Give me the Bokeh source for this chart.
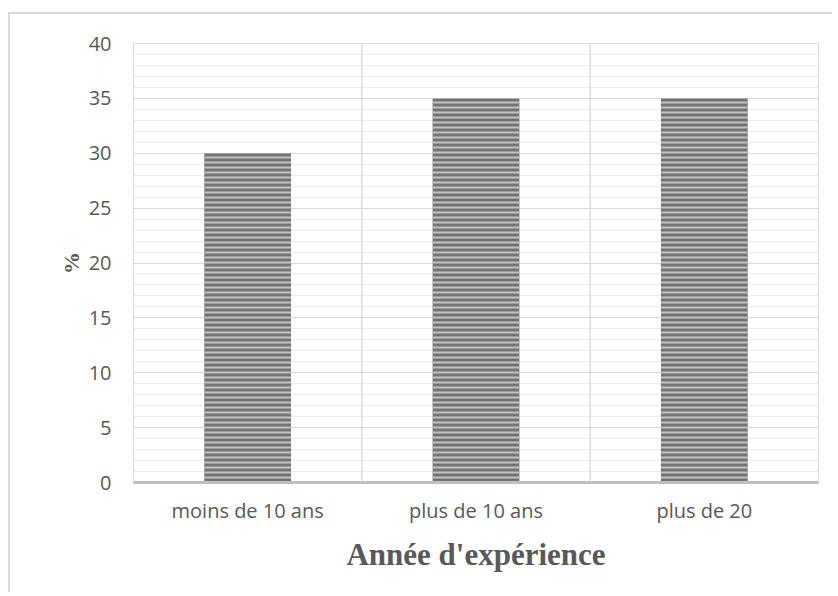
from bokeh.plotting import figure
from bokeh.models import FactorRange, Range1d, SingleIntervalTicker, Span, ColumnDataSource
from bokeh.embed import file_html
from bokeh.resources import INLINE

categories = ["moins de 10 ans", "plus de 10 ans", "plus de 20"]
values = [30, 35, 35]
y_label = "%"
x_label = "Année d'expérience"
y_min, y_max, y_step = 0, 40, 5

src = ColumnDataSource(dict(cat=categories, val=values))

p = figure(
    x_range=FactorRange(*categories),
    y_range=Range1d(y_min, y_max),
    width=824, height=580,
    output_backend="svg", toolbar_location=None,
    min_border_left=123, min_border_right=16,
    min_border_top=29, min_border_bottom=112,
)
p.styles = {"border-left": "2px solid #d9d9d9", "border-top": "2px solid #d9d9d9",
            "margin-top": "12px", "margin-left": "8px"}
p.background_fill_color = "white"
p.border_fill_color = "white"
p.outline_line_color = "#d9d9d9"
p.outline_line_width = 1

p.vbar(x="cat", top="val", width=0.38, source=src,
       fill_color="#747474", line_color=None,
       hatch_pattern="horizontal_line", hatch_color="#c2c2c2",
       hatch_weight=2, hatch_scale=5)

for b in range(1, len(categories)):
    p.add_layout(Span(location=b, dimension="height", line_color="#dedede",
                      line_width=1.5, level="underlay"))

p.xgrid.grid_line_color = None
p.yaxis.ticker = SingleIntervalTicker(interval=y_step, num_minor_ticks=5)
p.ygrid.grid_line_color = "#d9d9d9"
p.ygrid.minor_grid_line_color = "#ececec"

p.yaxis.axis_line_color = None
p.yaxis.major_tick_line_color = None
p.yaxis.minor_tick_line_color = None
p.yaxis.major_label_standoff = 16
p.yaxis.major_label_text_font = "Open Sans"
p.yaxis.major_label_text_font_size = "20px"
p.yaxis.major_label_text_color = "#595959"
p.yaxis.axis_label = y_label
p.yaxis.axis_label_text_font = "Liberation Serif"
p.yaxis.axis_label_text_font_style = "bold"
p.yaxis.axis_label_text_font_size = "22px"
p.yaxis.axis_label_text_color = "#595959"
p.yaxis.axis_label_standoff = 2

p.xaxis.axis_line_color = "#bfbfbf"
p.xaxis.axis_line_width = 3
p.xaxis.major_tick_line_color = None
p.xaxis.minor_tick_line_color = None
p.xaxis.major_label_standoff = 8
p.xaxis.major_label_text_font = "Open Sans"
p.xaxis.major_label_text_font_size = "20px"
p.xaxis.major_label_text_color = "#595959"
p.xaxis.axis_label = x_label
p.xaxis.axis_label_text_font = "Liberation Serif"
p.xaxis.axis_label_text_font_style = "bold"
p.xaxis.axis_label_text_font_size = "31px"
p.xaxis.axis_label_text_color = "#595959"
p.xaxis.axis_label_standoff = 10

open("out.html", "w").write(file_html(p, INLINE))
